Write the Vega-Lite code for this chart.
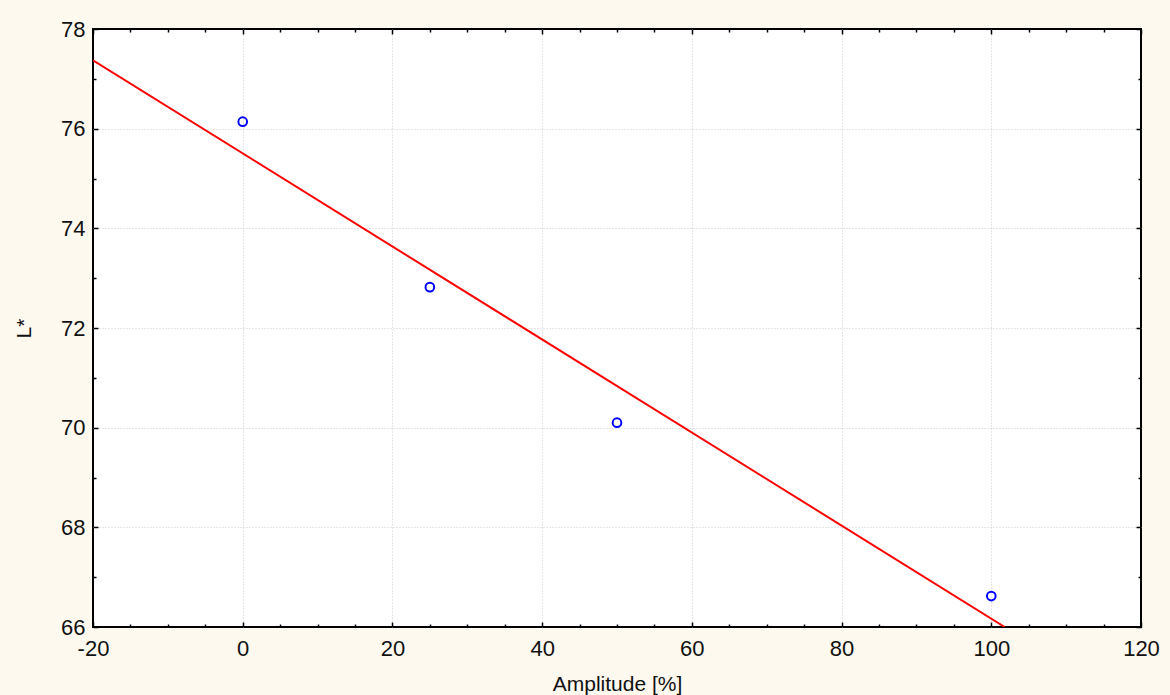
{
  "$schema": "https://vega.github.io/schema/vega-lite/v6.json",
  "width": 1048,
  "height": 598,
  "autosize": {"type": "none"},
  "padding": {"left": 93, "top": 29, "right": 29, "bottom": 68},
  "background": "#FEF9EF",
  "config": {
    "font": "Liberation Sans",
    "view": {"stroke": "black", "strokeWidth": 2, "fill": "white"},
    "axis": {
      "domain": false,
      "tickColor": "black",
      "tickWidth": 1.5,
      "labelFont": "Liberation Sans",
      "labelFontSize": 22,
      "labelColor": "#111111",
      "titleFont": "Liberation Sans",
      "titleFontSize": 21,
      "titleFontWeight": "normal",
      "titleColor": "#111111",
      "gridColor": "#cccccc",
      "gridDash": [1, 2],
      "gridWidth": 1
    }
  },
  "datasets": {
    "pts": [
      {"amp": 0, "L": 76.14},
      {"amp": 25, "L": 72.82},
      {"amp": 50, "L": 70.1},
      {"amp": 100, "L": 66.62}
    ],
    "fit": [
      {"amp": -20, "L": 77.37},
      {"amp": 101.8, "L": 66.0}
    ]
  },
  "resolve": {"axis": {"x": "independent", "y": "independent"}},
  "layer": [
    {
      "data": {"name": "fit"},
      "mark": {"type": "line", "color": "#FF0000", "strokeWidth": 2, "clip": true},
      "encoding": {
        "x": {
          "field": "amp", "type": "quantitative",
          "scale": {"domain": [-20, 120], "nice": false, "zero": false},
          "axis": {
            "orient": "bottom",
            "title": "Amplitude [%]",
            "titlePadding": 12,
            "values": [-20,-15,-10,-5,0,5,10,15,20,25,30,35,40,45,50,55,60,65,70,75,80,85,90,95,100,105,110,115,120],
            "labelExpr": "datum.value % 20 === 0 ? '' + datum.value : ''",
            "tickSize": {"condition": {"test": "datum.value % 20 === 0", "value": -5}, "value": -3},
            "labelPadding": 16,
            "labelFlush": false,
            "labelOverlap": false,
            "grid": true,
            "gridOpacity": {"condition": {"test": "datum.value % 20 === 0 && datum.value > -20 && datum.value < 120", "value": 1}, "value": 0}
          }
        },
        "y": {
          "field": "L", "type": "quantitative",
          "scale": {"domain": [66, 78], "nice": false, "zero": false},
          "axis": {
            "orient": "left",
            "title": "L*",
            "titlePadding": 26,
            "values": [66,67,68,69,70,71,72,73,74,75,76,77,78],
            "labelExpr": "datum.value % 2 === 0 ? '' + datum.value : ''",
            "tickSize": {"condition": {"test": "datum.value % 2 === 0", "value": -5}, "value": -3},
            "labelPadding": 13,
            "labelFlush": false,
            "labelOverlap": false,
            "labelBaseline": "middle",
            "grid": true,
            "gridOpacity": {"condition": {"test": "datum.value % 2 === 0 && datum.value > 66 && datum.value < 78", "value": 1}, "value": 0}
          }
        }
      }
    },
    {
      "data": {"name": "pts"},
      "mark": {"type": "point", "shape": "circle", "filled": false, "color": "#0000FF", "opacity": 1, "size": 75, "strokeWidth": 2},
      "encoding": {
        "x": {
          "field": "amp", "type": "quantitative",
          "axis": {
            "orient": "top",
            "title": null,
            "labels": false,
            "grid": false,
            "values": [-20,-15,-10,-5,0,5,10,15,20,25,30,35,40,45,50,55,60,65,70,75,80,85,90,95,100,105,110,115,120],
            "tickSize": {"condition": {"test": "datum.value % 20 === 0", "value": -5}, "value": -3}
          }
        },
        "y": {
          "field": "L", "type": "quantitative",
          "axis": {
            "orient": "right",
            "title": null,
            "labels": false,
            "grid": false,
            "values": [66,67,68,69,70,71,72,73,74,75,76,77,78],
            "tickSize": {"condition": {"test": "datum.value % 2 === 0", "value": -5}, "value": -3}
          }
        }
      }
    }
  ]
}
